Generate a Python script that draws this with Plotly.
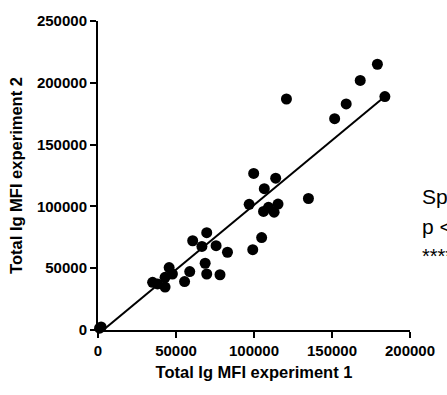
import plotly.graph_objects as go

# Data
exp1 = [1000, 2000, 35000, 38200, 43000, 43000, 45600, 47700, 55500, 58800,
        60700, 66600, 69700, 68700, 69700, 75700, 78200, 83000, 96900, 99800,
        99200, 104900, 106600, 106100, 109300, 112900, 115400, 113900, 120800,
        134900, 151700, 159100, 168100, 179100, 183900]
exp2 = [1500, 2500, 38600, 37300, 34700, 42600, 50500, 45300, 39200, 47300,
        72200, 67600, 78700, 54000, 45300, 68200, 44700, 62900, 101700, 126700,
        65000, 74800, 114300, 95900, 99300, 95300, 101900, 122800, 186900,
        106400, 171000, 182900, 201900, 215000, 188900]

fit_x = [2500, 183900]
fit_y = [-900, 188900]

x_ticks = [0, 50000, 100000, 150000, 200000]
y_ticks = [0, 50000, 100000, 150000, 200000, 250000]

stats_lines = ["Spearman r = 0.94", "p < 0.0001", "****"]

FONT = "Liberation Sans, Arial, Helvetica, sans-serif"

fig = go.Figure()
fig.add_trace(go.Scatter(x=fit_x, y=fit_y, mode="lines",
                         line=dict(color="black", width=2),
                         cliponaxis=False, showlegend=False, hoverinfo="skip"))
fig.add_trace(go.Scatter(x=exp1, y=exp2, mode="markers",
                         marker=dict(color="black", size=11, line=dict(width=0)),
                         cliponaxis=False, showlegend=False))

axis_common = dict(showgrid=False, zeroline=False, showline=True,
                   linecolor="black", linewidth=2, ticks="outside",
                   ticklen=6, tickwidth=2, tickcolor="black",
                   tickformat="d",
                   tickfont=dict(family=FONT, size=15, color="black", weight="bold"))

fig.update_xaxes(range=[0, 200000], tickvals=x_ticks,
                 title=dict(text="Total Ig MFI experiment 1",
                            font=dict(family=FONT, size=16.5, color="black", weight="bold"),
                            standoff=8),
                 **axis_common)
fig.update_yaxes(range=[0, 250000], tickvals=y_ticks,
                 title=dict(text="Total Ig MFI experiment 2",
                            font=dict(family=FONT, size=16.5, color="black", weight="bold"),
                            standoff=10),
                 **axis_common)

fig.add_annotation(xref="paper", yref="paper", x=1.031, y=(330.5 - 194) / 316,
                   text=stats_lines[0], showarrow=False, xanchor="left", yanchor="middle",
                   font=dict(family=FONT, size=21, color="black"))
fig.add_annotation(xref="paper", yref="paper", x=1.031, y=(330.5 - 225) / 316,
                   text=stats_lines[1], showarrow=False, xanchor="left", yanchor="middle",
                   font=dict(family=FONT, size=21, color="black"))
fig.add_annotation(xref="paper", yref="paper", x=1.031, y=(330.5 - 255) / 316,
                   text=stats_lines[2], showarrow=False, xanchor="left", yanchor="middle",
                   font=dict(family=FONT, size=20, color="black"))

fig.update_layout(width=447, height=395,
                  margin=dict(l=98, r=32, t=14.5, b=64.5),
                  plot_bgcolor="white", paper_bgcolor="white",
                  showlegend=False)

fig.write_html("out.html")
